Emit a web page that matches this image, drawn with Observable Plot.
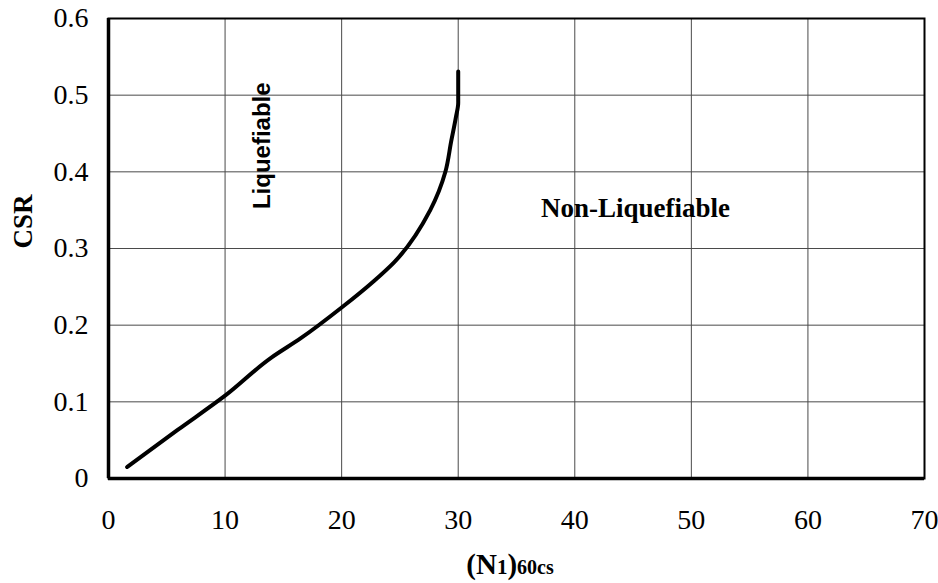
<!DOCTYPE html>
<html>
<head>
<meta charset="utf-8">
<script src="https://cdn.jsdelivr.net/npm/d3@7"></script>
<script src="https://cdn.jsdelivr.net/npm/@observablehq/plot@0.6"></script>
<style>
  html, body { margin: 0; padding: 0; background: #fff; }
  #chart { width: 938px; height: 583px; }
</style>
</head>
<body>
<div id="chart"></div>
<script>
// Boundary curve (N1)60cs vs CSR
const n160cs = [1.6, 5.9, 10, 14, 16.5, 20, 22.8, 24.5, 27.6, 28.9, 29.4, 29.8, 30, 30];
const csr    = [0.015, 0.063, 0.108, 0.158, 0.183, 0.223, 0.258, 0.282, 0.350, 0.400, 0.440, 0.471, 0.490, 0.531];

const xTicks = [0, 10, 20, 30, 40, 50, 60, 70];
const yTicks = [0, 0.1, 0.2, 0.3, 0.4, 0.5, 0.6];

const regionLabels = ["Liquefiable", "Non-Liquefiable"];
const regionX = [13.2, 45.2];
const regionY = [0.434, 0.353];

const curve = n160cs.map((x, i) => ({x, y: csr[i]}));

const serif = "'Liberation Serif', 'Times New Roman', serif";
const sans = "'Liberation Sans', Arial, sans-serif";

const plot = Plot.plot({
  width: 938,
  height: 583,
  marginLeft: 108,
  marginRight: 14,
  marginTop: 18,
  marginBottom: 105,
  style: {fontFamily: serif, fontSize: "28px", color: "#000", background: "#fff"},
  x: {domain: [0, 70], ticks: xTicks, tickSize: 0, tickPadding: 31, label: null},
  y: {domain: [0, 0.6], ticks: yTicks, tickSize: 0, tickPadding: 20, label: null, tickFormat: d => d3.format("~g")(d)},
  marks: [
    Plot.gridX(xTicks, {stroke: "#4a4a4a", strokeOpacity: 1, strokeWidth: 1}),
    Plot.gridY(yTicks, {stroke: "#4a4a4a", strokeOpacity: 1, strokeWidth: 1}),
    Plot.frame({stroke: "#000", strokeWidth: 2}),
    Plot.ruleX([0], {stroke: "#000", strokeWidth: 3.5}),
    Plot.ruleY([0], {stroke: "#000", strokeWidth: 3.5}),
    Plot.line(curve, {x: "x", y: "y", curve: "monotone-y", stroke: "#000", strokeWidth: 4, strokeLinecap: "round", strokeLinejoin: "round"}),
    Plot.text([regionLabels[0]], {x: () => regionX[0], y: () => regionY[0], text: d => d, rotate: -90,
      fontFamily: sans, fontWeight: "bold", fontSize: 24, fill: "#000"}),
    Plot.text([regionLabels[1]], {x: () => regionX[1], y: () => regionY[1], text: d => d,
      fontFamily: serif, fontWeight: "bold", fontSize: 27, fill: "#000"}),
    Plot.text(["CSR"], {frameAnchor: "left", text: d => d, rotate: -90, dx: -85, dy: 0,
      fontFamily: serif, fontWeight: "bold", fontSize: 27, fill: "#000"})
  ]
});

// x-axis title with subscripts: (N1)60cs
const svg = d3.select(plot);
const t = svg.append("text")
  .attr("x", 510)
  .attr("y", 574)
  .attr("text-anchor", "middle")
  .attr("font-family", serif)
  .attr("font-weight", "bold")
  .attr("fill", "#000");
t.append("tspan").attr("font-size", 29).text("(N");
t.append("tspan").attr("font-size", 21).text("1");
t.append("tspan").attr("font-size", 29).text(")");
t.append("tspan").attr("font-size", 20).text("60cs");

document.getElementById("chart").appendChild(plot);
</script>
</body>
</html>
